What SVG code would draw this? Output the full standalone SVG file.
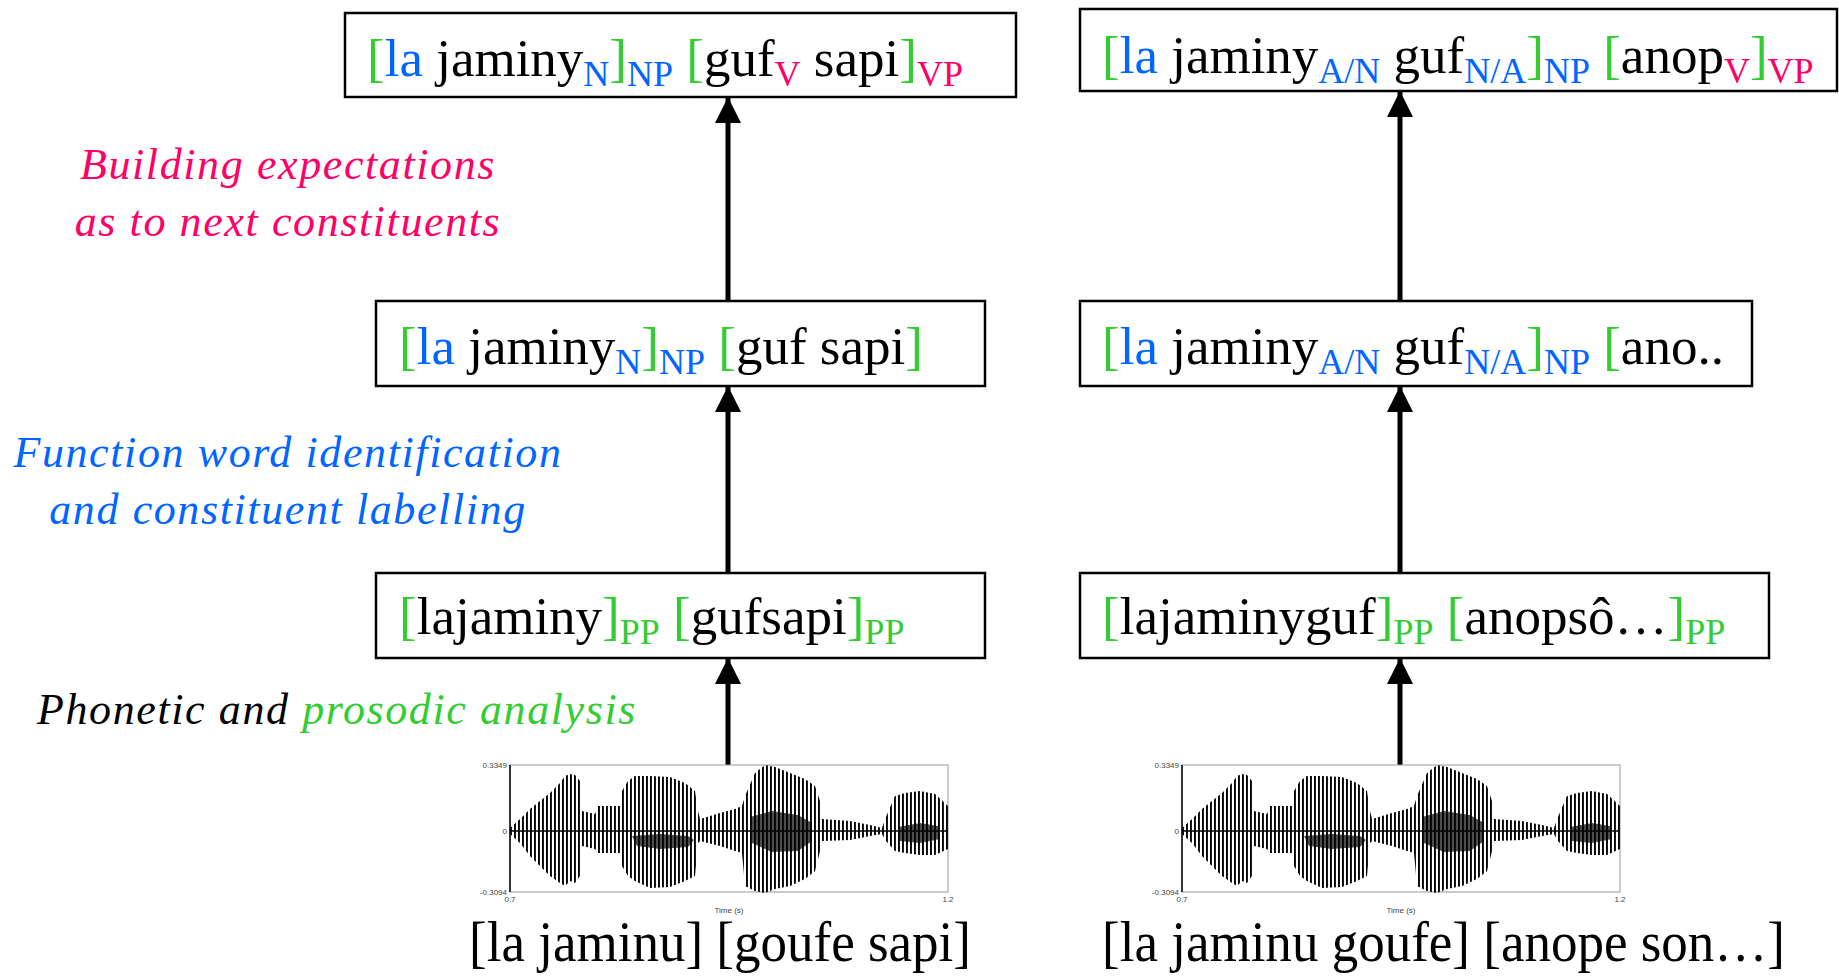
<svg xmlns="http://www.w3.org/2000/svg" width="1839" height="976" viewBox="0 0 1839 976">
<style>
.box{fill:#fff;stroke:#000;stroke-width:2.5}
.t{font-family:"Liberation Serif","Times New Roman",serif;font-size:53px;fill:#000}
.s{font-size:36px}
.g{fill:#33CC33}
.b{fill:#0066FF}
.p{fill:#FF0066}
.lab{font-family:"Liberation Serif","Times New Roman",serif;font-style:italic;font-size:44px;text-anchor:middle;letter-spacing:1.6px}
.ax{font-family:"Liberation Sans",Arial,sans-serif;font-size:8px;fill:#444}
.conn{stroke:#000;stroke-width:5;fill:none}
.bt{font-family:"Liberation Serif","Times New Roman",serif;font-size:57px;fill:#000}
</style>
<defs>
<marker id="ah" markerUnits="userSpaceOnUse" markerWidth="28" markerHeight="28" viewBox="0 0 28 28" refX="26" refY="14" orient="auto"><path d="M0,1 L26,14 L0,27 Z" fill="#000"/></marker>
<pattern id="wv" width="4" height="20" patternUnits="userSpaceOnUse"><rect x="0" y="0" width="1.9" height="20" fill="#000"/></pattern>
<g id="wave">
<rect x="0" y="-66" width="438" height="127" fill="#fff" stroke="#999" stroke-width="1"/>
<path fill="url(#wv)" d="M0,-3 L10,-12 L20,-22 L30,-30 L40,-38 L50,-48 L55,-55 L60,-57 L65,-56 L70,-50 L72,-20 L85,-17 L88,-25 L110,-25 L112,-40 L118,-50 L125,-55 L140,-55 L160,-54 L175,-48 L185,-40 L188,-20 L190,-12 L210,-18 L225,-22 L232,-25 L235,-35 L245,-58 L255,-66 L265,-64 L280,-58 L295,-52 L305,-45 L310,-30 L312,-12 L340,-10 L360,-6 L372,-3 L376,-14 L385,-35 L395,-38 L410,-40 L425,-37 L438,-25 L438,18 L425,24 L410,24 L395,22 L385,20 L376,10 L372,3 L360,5 L340,9 L312,10 L310,20 L305,40 L295,48 L280,55 L265,58 L255,62 L245,60 L235,55 L232,22 L225,20 L210,15 L190,10 L188,12 L185,45 L175,50 L160,56 L140,57 L125,50 L118,45 L112,35 L110,22 L88,22 L85,18 L72,15 L70,45 L65,52 L60,50 L55,55 L50,52 L40,45 L30,35 L20,25 L10,12 L0,3 Z"/>
<path fill="#000" fill-opacity="0.7" d="M122,5 L150,3 L178,5 L184,9 L178,16 L150,18 L127,15 Z M240,-14 L262,-20 L288,-16 L302,-8 L302,10 L288,20 L262,21 L242,12 Z M388,-4 L410,-8 L428,-5 L430,8 L410,12 L390,10 Z"/>
<line x1="0" y1="0" x2="438" y2="0" stroke="#000" stroke-width="1.5"/>
<line x1="0" y1="-66" x2="0" y2="61" stroke="#000" stroke-width="1.5"/>
<text class="ax" x="-3" y="-63" text-anchor="end">0.3349</text>
<text class="ax" x="-3" y="3" text-anchor="end">0</text>
<text class="ax" x="-3" y="64" text-anchor="end">-0.3094</text>
<text class="ax" x="0" y="71" text-anchor="middle">0.7</text>
<text class="ax" x="438" y="71" text-anchor="middle">1.2</text>
<text class="ax" x="219" y="82" text-anchor="middle">Time (s)</text>
</g>
</defs>
<rect width="1839" height="976" fill="#fff"/>

<g id="labels">
<text class="lab p" x="288" y="179">Building expectations</text>
<text class="lab p" x="288" y="236">as to next constituents</text>
<text class="lab b" x="288" y="467">Function word identification</text>
<text class="lab b" x="288" y="524">and constituent labelling</text>
<text class="lab" x="37" y="724" style="text-anchor:start"><tspan>Phonetic and </tspan><tspan class="g">prosodic analysis</tspan></text>
</g>

<g id="connectors">
<line class="conn" x1="728" y1="765" x2="728" y2="658" marker-end="url(#ah)"/>
<line class="conn" x1="728" y1="573" x2="728" y2="386" marker-end="url(#ah)"/>
<line class="conn" x1="728" y1="301" x2="728" y2="97" marker-end="url(#ah)"/>
<line class="conn" x1="1400" y1="765" x2="1400" y2="658" marker-end="url(#ah)"/>
<line class="conn" x1="1400" y1="573" x2="1400" y2="386" marker-end="url(#ah)"/>
<line class="conn" x1="1400" y1="301" x2="1400" y2="91" marker-end="url(#ah)"/>
</g>

<g id="node-top-left">
<rect class="box" x="345" y="13" width="671" height="84"/>
<text class="t" x="367" y="76"><tspan class="g">[</tspan><tspan class="b">la</tspan> jaminy<tspan class="s b" dy="10">N</tspan><tspan class="g" dy="-10">]</tspan><tspan class="s b" dy="10">NP</tspan><tspan dy="-10"> </tspan><tspan class="g">[</tspan>guf<tspan class="s p" dy="10">V</tspan><tspan dy="-10"> sapi</tspan><tspan class="g">]</tspan><tspan class="s p" dy="10">VP</tspan></text>
</g>

<g id="node-top-right">
<rect class="box" x="1080" y="9" width="757" height="82"/>
<text class="t" x="1102" y="73"><tspan class="g">[</tspan><tspan class="b">la</tspan> jaminy<tspan class="s b" dy="10">A/N</tspan><tspan dy="-10"> guf</tspan><tspan class="s b" dy="10">N/A</tspan><tspan class="g" dy="-10">]</tspan><tspan class="s b" dy="10">NP</tspan><tspan dy="-10"> </tspan><tspan class="g">[</tspan>anop<tspan class="s p" dy="10">V</tspan><tspan class="g" dy="-10">]</tspan><tspan class="s p" dy="10">VP</tspan></text>
</g>

<g id="node-mid-left">
<rect class="box" x="376" y="301" width="609" height="85"/>
<text class="t" x="399" y="364"><tspan class="g">[</tspan><tspan class="b">la</tspan> jaminy<tspan class="s b" dy="10">N</tspan><tspan class="g" dy="-10">]</tspan><tspan class="s b" dy="10">NP</tspan><tspan dy="-10"> </tspan><tspan class="g">[</tspan>guf sapi<tspan class="g">]</tspan></text>
</g>

<g id="node-mid-right">
<rect class="box" x="1080" y="301" width="672" height="85"/>
<text class="t" x="1102" y="364"><tspan class="g">[</tspan><tspan class="b">la</tspan> jaminy<tspan class="s b" dy="10">A/N</tspan><tspan dy="-10"> guf</tspan><tspan class="s b" dy="10">N/A</tspan><tspan class="g" dy="-10">]</tspan><tspan class="s b" dy="10">NP</tspan><tspan dy="-10"> </tspan><tspan class="g">[</tspan>ano..</text>
</g>

<g id="node-bot-left">
<rect class="box" x="376" y="573" width="609" height="85"/>
<text class="t" x="399" y="634"><tspan class="g">[</tspan>lajaminy<tspan class="g">]</tspan><tspan class="s g" dy="10">PP</tspan><tspan dy="-10"> </tspan><tspan class="g">[</tspan>gufsapi<tspan class="g">]</tspan><tspan class="s g" dy="10">PP</tspan></text>
</g>

<g id="node-bot-right">
<rect class="box" x="1080" y="573" width="689" height="85"/>
<text class="t" x="1102" y="634"><tspan class="g">[</tspan>lajaminyguf<tspan class="g">]</tspan><tspan class="s g" dy="10">PP</tspan><tspan dy="-10"> </tspan><tspan class="g">[</tspan>anopsô…<tspan class="g">]</tspan><tspan class="s g" dy="10">PP</tspan></text>
</g>

<g id="node-wave-left">
<use href="#wave" x="510" y="831"/>
<text class="bt" x="469" y="961" textLength="502" lengthAdjust="spacingAndGlyphs">[la jaminu] [goufe sapi]</text>
</g>

<g id="node-wave-right">
<use href="#wave" x="1182" y="831"/>
<text class="bt" x="1102" y="961" textLength="683" lengthAdjust="spacingAndGlyphs">[la jaminu goufe] [anope son…]</text>
</g>
</svg>
